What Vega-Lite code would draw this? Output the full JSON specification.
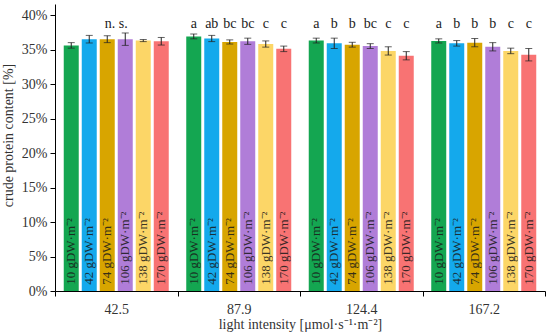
{
  "$schema": "https://vega.github.io/schema/vega-lite/v6.json",
  "width": 490,
  "height": 287,
  "autosize": {"type": "none"},
  "padding": {"left": 55, "top": 4, "right": 5, "bottom": 43},
  "background": "white",
  "config": {
    "view": {"stroke": null},
    "font": "Liberation Serif",
    "axis": {"labelFont": "Liberation Serif", "titleFont": "Liberation Serif", "titleFontWeight": "normal", "labelColor": "#333333", "titleColor": "#333333", "domainColor": "#000000", "tickColor": "#000000", "grid": false, "labelOverlap": false},
    "axisY": {"values": [0, 5, 10, 15, 20, 25, 30, 35, 40], "labelOverlap": false, "labelFlush": false, "labelExpr": "datum.value + '%'", "tickSize": 5, "labelPadding": 3, "labelFontSize": 14, "titleFontSize": 14, "titleX": -47, "titleY": 131, "titleAngle": 270, "titleAlign": "center", "titleBaseline": "middle"}
  },
  "data": {
    "values": [
      {"light": "42.5", "dens": "10 gDW·m⁻²", "v": 35.6, "lo": 35.2, "hi": 36.0, "sig": ""},
      {"light": "42.5", "dens": "42 gDW·m⁻²", "v": 36.5, "lo": 35.95, "hi": 37.05, "sig": ""},
      {"light": "42.5", "dens": "74 gDW·m⁻²", "v": 36.5, "lo": 36.0, "hi": 37.0, "sig": ""},
      {"light": "42.5", "dens": "106 gDW·m⁻²", "v": 36.5, "lo": 35.6, "hi": 37.4, "sig": ""},
      {"light": "42.5", "dens": "138 gDW·m⁻²", "v": 36.3, "lo": 36.15, "hi": 36.45, "sig": ""},
      {"light": "42.5", "dens": "170 gDW·m⁻²", "v": 36.2, "lo": 35.65, "hi": 36.75, "sig": ""},
      {"light": "87.9", "dens": "10 gDW·m⁻²", "v": 36.9, "lo": 36.55, "hi": 37.25, "sig": "a"},
      {"light": "87.9", "dens": "42 gDW·m⁻²", "v": 36.6, "lo": 36.15, "hi": 37.05, "sig": "ab"},
      {"light": "87.9", "dens": "74 gDW·m⁻²", "v": 36.1, "lo": 35.8, "hi": 36.4, "sig": "bc"},
      {"light": "87.9", "dens": "106 gDW·m⁻²", "v": 36.2, "lo": 35.75, "hi": 36.65, "sig": "bc"},
      {"light": "87.9", "dens": "138 gDW·m⁻²", "v": 35.8, "lo": 35.35, "hi": 36.25, "sig": "c"},
      {"light": "87.9", "dens": "170 gDW·m⁻²", "v": 35.1, "lo": 34.7, "hi": 35.5, "sig": "c"},
      {"light": "124.4", "dens": "10 gDW·m⁻²", "v": 36.3, "lo": 35.95, "hi": 36.65, "sig": "a"},
      {"light": "124.4", "dens": "42 gDW·m⁻²", "v": 35.9, "lo": 35.15, "hi": 36.65, "sig": "b"},
      {"light": "124.4", "dens": "74 gDW·m⁻²", "v": 35.7, "lo": 35.35, "hi": 36.05, "sig": "b"},
      {"light": "124.4", "dens": "106 gDW·m⁻²", "v": 35.5, "lo": 35.15, "hi": 35.85, "sig": "bc"},
      {"light": "124.4", "dens": "138 gDW·m⁻²", "v": 34.8, "lo": 34.2, "hi": 35.4, "sig": "c"},
      {"light": "124.4", "dens": "170 gDW·m⁻²", "v": 34.1, "lo": 33.5, "hi": 34.7, "sig": "c"},
      {"light": "167.2", "dens": "10 gDW·m⁻²", "v": 36.25, "lo": 35.95, "hi": 36.55, "sig": "a"},
      {"light": "167.2", "dens": "42 gDW·m⁻²", "v": 35.9, "lo": 35.5, "hi": 36.3, "sig": "b"},
      {"light": "167.2", "dens": "74 gDW·m⁻²", "v": 36.0, "lo": 35.4, "hi": 36.6, "sig": "b"},
      {"light": "167.2", "dens": "106 gDW·m⁻²", "v": 35.4, "lo": 34.8, "hi": 36.0, "sig": "b"},
      {"light": "167.2", "dens": "138 gDW·m⁻²", "v": 34.8, "lo": 34.4, "hi": 35.2, "sig": "c"},
      {"light": "167.2", "dens": "170 gDW·m⁻²", "v": 34.25, "lo": 33.35, "hi": 35.15, "sig": "c"}
    ]
  },
  "encoding": {
    "x": {
      "field": "light", "type": "nominal", "sort": ["42.5", "87.9", "124.4", "167.2"],
      "scale": {"paddingInner": 0, "paddingOuter": 0},
      "axis": {"title": "light intensity [μmol·s⁻¹·m⁻²]", "labelAngle": 0, "tickBand": "extent", "tickSize": 5, "labelPadding": 6, "labelFontSize": 14, "titleFontSize": 14, "titlePadding": 1, "labelColor": "#333333"}
    },
    "xOffset": {
      "field": "dens", "type": "nominal",
      "sort": ["10 gDW·m⁻²", "42 gDW·m⁻²", "74 gDW·m⁻²", "106 gDW·m⁻²", "138 gDW·m⁻²", "170 gDW·m⁻²"],
      "scale": {"paddingInner": 0.167, "paddingOuter": 0.486}
    }
  },
  "layer": [
    {
      "mark": {"type": "bar"},
      "encoding": {
        "y": {
          "field": "v", "type": "quantitative",
          "scale": {"domain": [0, 41.6], "nice": false},
          "title": "crude protein content [%]"
        },
        "color": {
          "field": "dens", "type": "nominal",
          "sort": ["10 gDW·m⁻²", "42 gDW·m⁻²", "74 gDW·m⁻²", "106 gDW·m⁻²", "138 gDW·m⁻²", "170 gDW·m⁻²"],
          "scale": {"range": ["#14A651", "#14A9EC", "#D8A500", "#B07DD8", "#FCD667", "#F87373"]},
          "legend": null
        }
      }
    },
    {
      "mark": {"type": "rule", "color": "#222222", "strokeWidth": 1},
      "encoding": {"y": {"field": "lo", "type": "quantitative", "title": "crude protein content [%]"}, "y2": {"field": "hi"}}
    },
    {
      "mark": {"type": "tick", "color": "#222222", "thickness": 1, "size": 7},
      "encoding": {"y": {"field": "lo", "type": "quantitative", "title": "crude protein content [%]"}}
    },
    {
      "mark": {"type": "tick", "color": "#222222", "thickness": 1, "size": 7},
      "encoding": {"y": {"field": "hi", "type": "quantitative", "title": "crude protein content [%]"}}
    },
    {
      "mark": {"type": "text", "angle": 270, "align": "left", "baseline": "middle", "fontSize": 13, "color": "#1a1a1a", "opacity": 0.85},
      "encoding": {"y": {"datum": 0.9, "type": "quantitative", "title": "crude protein content [%]"}, "text": {"field": "dens"}}
    },
    {
      "mark": {"type": "text", "baseline": "middle", "fontSize": 14, "color": "#222222"},
      "encoding": {"y": {"datum": 38.7, "type": "quantitative", "title": "crude protein content [%]"}, "text": {"field": "sig"}}
    },
    {
      "data": {"values": [{"light": "42.5", "note": "n. s."}]},
      "mark": {"type": "text", "baseline": "middle", "fontSize": 14, "color": "#222222"},
      "encoding": {"xOffset": null, "y": {"datum": 38.7, "type": "quantitative", "title": "crude protein content [%]"}, "text": {"field": "note"}}
    }
  ]
}
